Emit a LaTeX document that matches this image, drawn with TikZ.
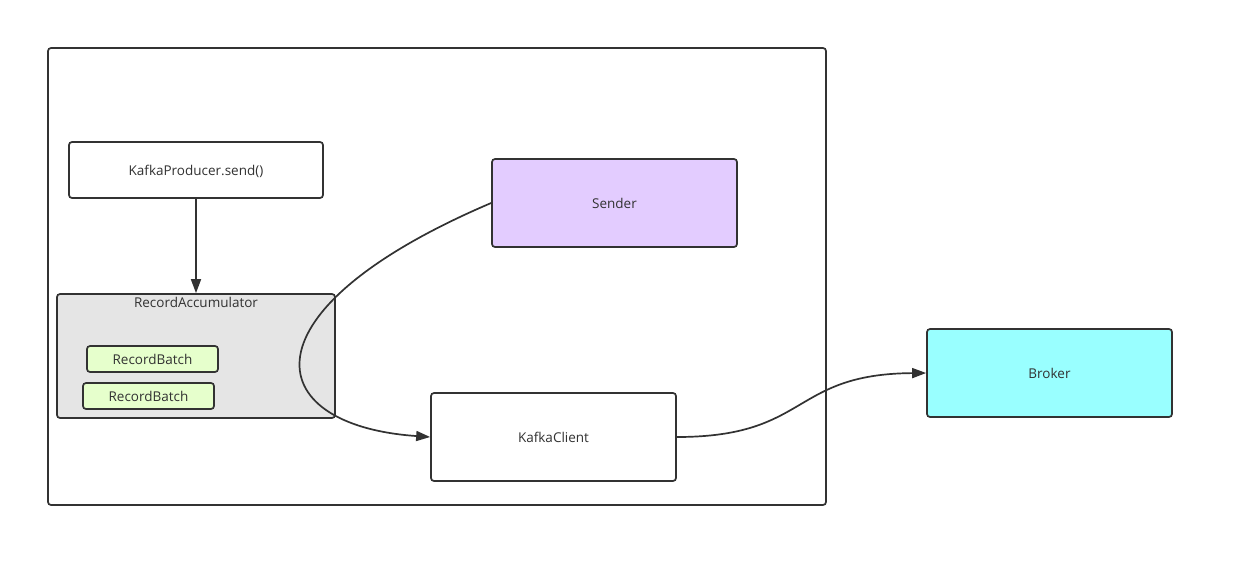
\documentclass[tikz,border=0pt]{standalone}
\usepackage{fontspec}
\setmainfont{Open Sans}
\usetikzlibrary{arrows.meta}

\definecolor{edge}{RGB}{50,50,50}
\definecolor{accfill}{RGB}{229,229,229}
\definecolor{batchfill}{RGB}{230,255,204}
\definecolor{senderfill}{RGB}{227,204,255}
\definecolor{brokerfill}{RGB}{153,255,255}

\tikzset{
  box/.style={draw=edge, line width=1.7pt, rounded corners=3pt,
    fill=white, text=edge, inner sep=0pt, text height=11pt, text depth=0pt},
  batch/.style={box, fill=batchfill, minimum width=131pt, minimum height=26pt},
  flow/.style={draw=edge, line width=1.7pt, -{Triangle[length=14pt,width=10pt]}}
}

\begin{document}
\begin{tikzpicture}[x=1pt, y=-1pt, font=\fontsize{13.5}{15}\selectfont]
    \useasboundingbox (0,0) rectangle (1234,568);
    % producer frame
    \node[box, minimum width=778pt, minimum height=457pt] (frame) at (437,276.5) {};
    \node[box, minimum width=254pt, minimum height=56pt] (send) at (196,170) {KafkaProducer.send()};
    % accumulator with its batches
    \node[box, fill=accfill, minimum width=278pt, minimum height=124pt] (acc) at (196,356) {};
    \node[text=edge, anchor=north] (acclabel) at (196,294) {RecordAccumulator};
    \foreach \name/\x/\y in {batchA/152.5/359, batchB/148.5/396}{
      \node[batch] (\name) at (\x,\y) {RecordBatch};
    }
    % sender thread and network client
    \node[box, fill=senderfill, minimum width=245pt, minimum height=88pt] (sender) at (614.5,203) {Sender};
    \node[box, minimum width=245pt, minimum height=88pt] (client) at (553.5,437) {KafkaClient};
    \node[box, fill=brokerfill, minimum width=245pt, minimum height=88pt] (broker) at (1049.5,373) {Broker};
    % connectors
    \draw[flow] (sender.west) .. controls (240,310) and (258,425) .. (client.west);
    \draw[flow] (send.south) -- (acc.north);
    \draw[flow] (client.east) .. controls (810,437) and (790,374) .. (broker.west);
  \end{tikzpicture}
\end{document}
